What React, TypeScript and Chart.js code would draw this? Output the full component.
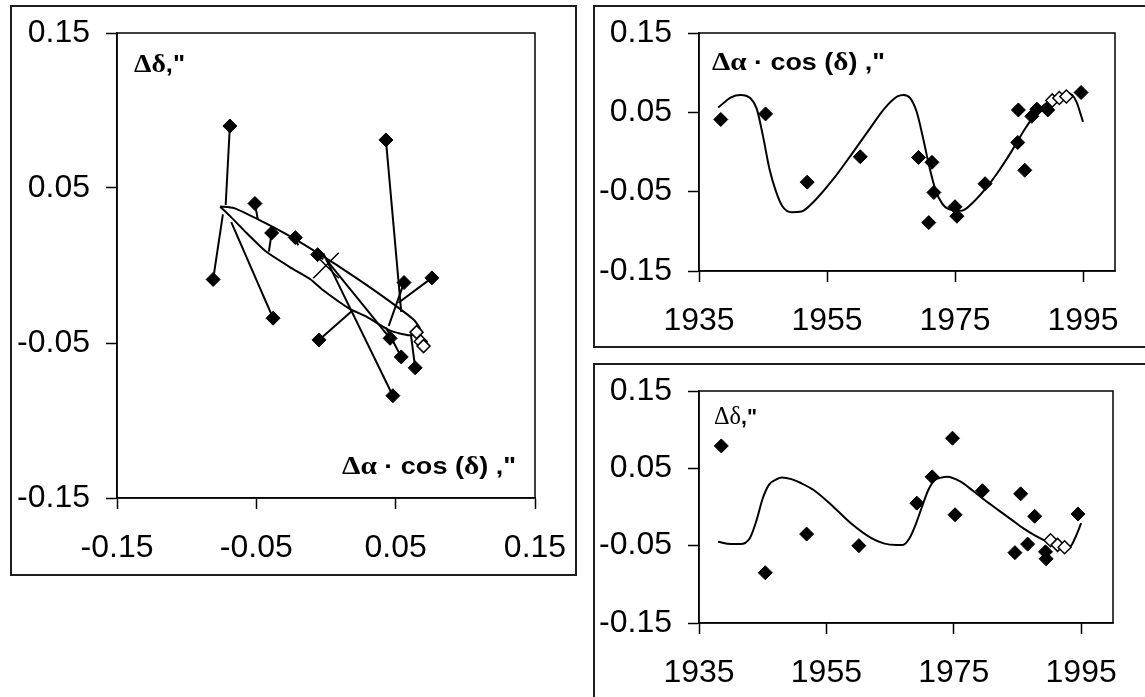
import React, { useEffect, useRef } from "react";
import { Chart, registerables } from "chart.js";

Chart.register(...registerables);

// ---------- tick values / labels ----------
const offsetTicks = [-0.15, -0.05, 0.05, 0.15];
const offsetTickLabels = ["-0.15", "-0.05", "0.05", "0.15"];
const yearTicks = [1935, 1955, 1975, 1995];
const yearTickLabels = ["1935", "1955", "1975", "1995"];

// ---------- titles ----------
const titleDD = 'Δδ,"';
const titleDA = 'Δα · cos (δ) ,"';

// ---------- fitted model (time series) ----------
const fitYears = [1938, 1940, 1941.5, 1943, 1944, 1945, 1946, 1947, 1948, 1949.5, 1951, 1953, 1956, 1959, 1962, 1964, 1966, 1967, 1968, 1969, 1970, 1971, 1972, 1973, 1974, 1976, 1978, 1980, 1982, 1984, 1986, 1988, 1990, 1991.5, 1992.5, 1993.3, 1994, 1995];
const fitDA = [0.056, 0.069, 0.072, 0.068, 0.055, 0.020, -0.021, -0.049, -0.068, -0.076, -0.075, -0.062, -0.034, -0.001, 0.033, 0.055, 0.070, 0.072, 0.068, 0.051, 0.018, -0.019, -0.049, -0.065, -0.072, -0.074, -0.062, -0.044, -0.022, 0.003, 0.030, 0.052, 0.066, 0.072, 0.074, 0.072, 0.063, 0.038];
const fitDD = [-0.045, -0.048, -0.048, -0.040, -0.018, 0.011, 0.029, 0.035, 0.038, 0.036, 0.031, 0.022, 0.001, -0.022, -0.040, -0.047, -0.049, -0.049, -0.041, -0.023, 0.000, 0.022, 0.035, 0.038, 0.039, 0.033, 0.021, 0.008, -0.004, -0.016, -0.028, -0.038, -0.046, -0.050, -0.052, -0.051, -0.041, -0.021];

// ---------- observations: Δα·cos(δ) ----------
const daYears = [1938.4, 1945.4, 1951.9, 1960.2, 1969.3, 1970.9, 1971.4, 1971.7, 1975.0, 1975.3, 1979.7, 1984.8, 1984.9, 1985.9, 1987.0, 1987.8, 1989.5, 1994.7];
const daValues = [0.041, 0.048, -0.038, -0.006, -0.007, -0.089, -0.013, -0.051, -0.069, -0.081, -0.040, 0.012, 0.053, -0.023, 0.045, 0.054, 0.053, 0.075];

// ---------- observations: Δδ ----------
const ddYears = [1938.5, 1945.4, 1951.9, 1960.1, 1969.2, 1971.6, 1974.8, 1975.2, 1979.5, 1984.6, 1985.5, 1986.6, 1987.7, 1989.4, 1989.5, 1994.5];
const ddValues = [0.079, -0.085, -0.035, -0.050, 0.005, 0.039, 0.089, -0.010, 0.021, -0.059, 0.017, -0.048, -0.012, -0.058, -0.067, -0.009];

// ---------- open (hollow) points ----------
const openYears = [1990.2, 1991.3, 1992.4];
const openDA = [0.065, 0.068, 0.070];
const openDD = [-0.043, -0.049, -0.052];

// ---------- left panel: model loop in (Δα·cosδ, Δδ) ----------
const loopDA = [-0.076, -0.066, -0.047, -0.026, -0.004, 0.020, 0.044, 0.063, 0.068, 0.060, 0.046, 0.029, 0.017, -0.002, -0.011, -0.026, -0.043, -0.057, -0.069, -0.076];
const loopDD = [0.038, 0.037, 0.029, 0.019, 0.007, -0.007, -0.022, -0.035, -0.042, -0.045, -0.042, -0.033, -0.028, -0.016, -0.009, -0.001, 0.009, 0.021, 0.032, 0.038];

// ---------- left panel: observed positions and residual vectors ----------
const vecFromDA = [-0.069, 0.043, -0.051, -0.039, -0.022, -0.006, -0.081, 0.056, 0.076, -0.038, -0.005, 0.046, 0.054, 0.064, 0.048];
const vecFromDD = [0.090, 0.081, 0.040, 0.021, 0.018, 0.007, -0.009, -0.011, -0.008, -0.034, -0.048, -0.047, -0.059, -0.066, -0.084];
const vecToDA = [-0.072, 0.054, -0.049, -0.041, -0.020, -0.002, -0.074, 0.045, 0.052, -0.068, 0.019, 0.000, 0.043, 0.061, -0.002];
const vecToDD = [0.039, -0.030, 0.030, 0.009, 0.013, 0.004, 0.033, -0.039, -0.024, 0.028, -0.029, 0.004, -0.040, -0.045, 0.008];

// origin marker
const originDA = [0];
const originDD = [0];

// ---------- styling helpers ----------
const SANS = "'Liberation Sans', Arial, Helvetica, sans-serif";
const SERIF = "'Liberation Serif', 'Times New Roman', serif";

type TitleSpec = { text: string; dx: number; dy: number; width: number; bold: boolean };

function drawRichText(ctx: CanvasRenderingContext2D, t: TitleSpec, x: number, y: number) {
  const chars = Array.from(t.text);
  const isGreek = (c: string) => /[\u0370-\u03FF]/.test(c);
  const fontFor = (c: string) =>
    isGreek(c)
      ? `${t.bold ? "bold " : ""}${t.bold ? 25 : 25}px ${SERIF}`
      : `bold ${t.bold ? 23 : 22}px ${SANS}`;
  let natural = 0;
  for (const c of chars) {
    ctx.font = fontFor(c);
    natural += ctx.measureText(c).width;
  }
  const sx = t.width / natural;
  ctx.save();
  ctx.translate(x, y);
  ctx.scale(sx, 1);
  ctx.fillStyle = "#000";
  ctx.textBaseline = "alphabetic";
  ctx.textAlign = "left";
  let cx = 0;
  for (const c of chars) {
    ctx.font = fontFor(c);
    ctx.fillText(c, cx, 0);
    cx += ctx.measureText(c).width;
  }
  ctx.restore();
}

function boxAndTitles(titles: TitleSpec[]) {
  return {
    id: "boxAndTitles",
    afterDraw(chart: any) {
      const { ctx, chartArea: a } = chart;
      ctx.save();
      ctx.strokeStyle = "#000";
      ctx.lineWidth = 1.5;
      ctx.strokeRect(a.left, a.top, a.right - a.left, a.bottom - a.top);
      for (const t of titles) drawRichText(ctx, t, a.left + t.dx, a.top + t.dy);
      ctx.restore();
    },
  };
}

function scaleOpts(position: "left" | "bottom", min: number, max: number, tickVals: number[], tickLabels: string[], size: number) {
  return {
    type: "linear",
    position,
    min,
    max,
    afterBuildTicks: (s: any) => {
      s.ticks = tickVals.map((v) => ({ value: v }));
    },
    afterFit: (s: any) => {
      if (position === "left") s.width = size;
      else s.height = size;
    },
    ticks: {
      autoSkip: false,
      maxRotation: 0,
      minRotation: 0,
      padding: position === "left" ? 16 : 20,
      color: "#000",
      font: { family: SANS, size: 32 },
      callback: (_v: any, i: number) => tickLabels[i],
    },
    grid: {
      display: true,
      drawOnChartArea: false,
      drawTicks: true,
      tickLength: 11,
      tickWidth: 1.5,
      tickColor: "#000",
    },
    border: { display: true, color: "#000", width: 1.5 },
  };
}

const filledPts = (xs: number[], ys: number[]) => ({
  data: xs.map((x, i) => ({ x, y: ys[i] })),
  pointStyle: "rectRot",
  pointRadius: 7,
  pointHoverRadius: 7,
  backgroundColor: "#000",
  borderColor: "#000",
  borderWidth: 1,
  showLine: false,
  order: 0,
});

const openPts = (xs: number[], ys: number[]) => ({
  data: xs.map((x, i) => ({ x, y: ys[i] })),
  pointStyle: "rectRot",
  pointRadius: 6.5,
  pointHoverRadius: 6.5,
  backgroundColor: "#fff",
  borderColor: "#000",
  borderWidth: 1.5,
  showLine: false,
  order: 1,
});

const curve = (xs: number[], ys: number[], monotone: boolean) => ({
  data: xs.map((x, i) => ({ x, y: ys[i] })),
  showLine: true,
  pointRadius: 0,
  pointHoverRadius: 0,
  borderColor: "#000",
  backgroundColor: "#000",
  borderWidth: 2,
  fill: false,
  tension: monotone ? 0 : 0.18,
  cubicInterpolationMode: monotone ? "monotone" : "default",
  order: 3,
});

function baseOptions(padRight: number, padTop: number) {
  return {
    responsive: false,
    maintainAspectRatio: false,
    animation: false,
    devicePixelRatio: 1,
    events: [],
    layout: { padding: { left: 0, top: padTop, right: padRight, bottom: 0 } },
    plugins: { legend: { display: false }, tooltip: { enabled: false }, title: { display: false } },
  };
}

function ChartCanvas(props: { left: number; top: number; width: number; height: number; build: () => any }) {
  const ref = useRef<HTMLCanvasElement | null>(null);
  useEffect(() => {
    if (!ref.current) return;
    const chart = new Chart(ref.current, props.build());
    return () => chart.destroy();
  }, []);
  return (
    <canvas
      ref={ref}
      width={props.width}
      height={props.height}
      style={{ position: "absolute", left: props.left, top: props.top, width: props.width, height: props.height }}
    />
  );
}

const buildLeft = () => {
  const vectors = vecFromDA.map((x, i) => ({
    data: [
      { x, y: vecFromDD[i] },
      { x: vecToDA[i], y: vecToDD[i] },
    ],
    showLine: true,
    pointRadius: 0,
    pointHoverRadius: 0,
    borderColor: "#000",
    borderWidth: 2,
    tension: 0,
    order: 2,
  }));
  return {
    type: "scatter",
    data: {
      datasets: [
        filledPts(vecFromDA, vecFromDD),
        openPts(openDA, openDD),
        {
          data: originDA.map((x, i) => ({ x, y: originDD[i] })),
          pointStyle: "crossRot",
          pointRadius: 18,
          pointHoverRadius: 18,
          borderColor: "#000",
          borderWidth: 1.5,
          showLine: false,
          order: 1,
        },
        ...vectors,
        curve(loopDA, loopDD, false),
      ],
    },
    options: {
      ...baseOptions(60, 45),
      scales: {
        x: scaleOpts("bottom", -0.15, 0.15, offsetTicks, offsetTickLabels, 76),
        y: scaleOpts("left", -0.15, 0.15, offsetTicks, offsetTickLabels, 105),
      },
    },
    plugins: [
      boxAndTitles([
        { text: titleDD, dx: 17, dy: 39, width: 51, bold: true },
        { text: titleDA, dx: 225, dy: 441, width: 174, bold: true },
      ]),
    ],
  };
};

const buildTopRight = () => ({
  type: "scatter",
  data: {
    datasets: [filledPts(daYears, daValues), openPts(openYears, openDA), curve(fitYears, fitDA, true)],
  },
  options: {
    ...baseOptions(60, 45),
    scales: {
      x: scaleOpts("bottom", 1935, 2000, yearTicks, yearTickLabels, 75),
      y: scaleOpts("left", -0.15, 0.15, offsetTicks, offsetTickLabels, 104),
    },
  },
  plugins: [boxAndTitles([{ text: titleDA, dx: 13, dy: 37, width: 173, bold: true }])],
});

const buildBottomRight = () => ({
  type: "scatter",
  data: {
    datasets: [filledPts(ddYears, ddValues), openPts(openYears, openDD), curve(fitYears, fitDD, true)],
  },
  options: {
    ...baseOptions(60, 45),
    scales: {
      x: scaleOpts("bottom", 1935, 2000, yearTicks, yearTickLabels, 72),
      y: scaleOpts("left", -0.15, 0.15, offsetTicks, offsetTickLabels, 104),
    },
  },
  plugins: [boxAndTitles([{ text: titleDD, dx: 15, dy: 33, width: 43, bold: false }])],
});

const frame = (left: number, top: number, width: number, height: number): React.CSSProperties => ({
  position: "absolute",
  left,
  top,
  width,
  height,
  border: "2px solid #1e1e1e",
  boxSizing: "border-box",
});

export default function App() {
  return (
    <div
      style={{
        position: "absolute",
        left: 0,
        top: 0,
        width: 1145,
        height: 697,
        overflow: "hidden",
        background: "#fff",
      }}
    >
      <div style={frame(10, 5, 567, 571)} />
      <div style={frame(593, 5, 570, 343)} />
      <div style={frame(593, 363, 570, 360)} />
      {/* left panel: plot area 117..535 x 33..498 */}
      <ChartCanvas left={12} top={-12} width={583} height={586} build={buildLeft} />
      {/* top right: plot area 699..1115 x 33..271 */}
      <ChartCanvas left={595} top={-12} width={580} height={358} build={buildTopRight} />
      {/* bottom right: plot area 699..1113 x 391..623 */}
      <ChartCanvas left={595} top={346} width={578} height={349} build={buildBottomRight} />
    </div>
  );
}
